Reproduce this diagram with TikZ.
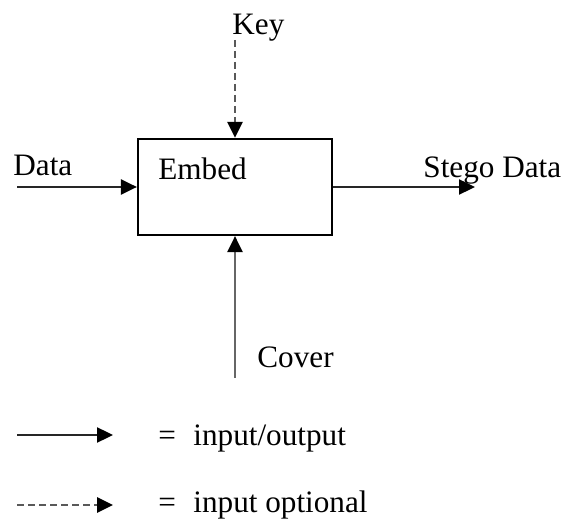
\documentclass[tikz,border=0pt]{standalone}
\usepackage{fontspec}
\setmainfont{Liberation Serif}
\usetikzlibrary{arrows.meta}

\tikzset{
  flow/.style={line width=1.2pt, draw=black!85,
    -{Triangle[length=8pt,width=7.5pt,color=black]}},
  optflow/.style={flow, line width=1.4pt, draw=black!65, dash pattern=on 3.5pt off 2pt},
  lbl/.style={anchor=base west, inner sep=0pt, font=\fontsize{15.6}{18}\selectfont},
  block/.style={draw, line width=1.1pt, minimum width=97pt, minimum height=48pt,
    inner sep=0pt}
}

\begin{document}
\begin{tikzpicture}[x=0.5pt, y=-0.5pt]
  \useasboundingbox (0,0) rectangle (566,522);

  % process block
  \node[block] (embed) at (235,187) {};
  \node[lbl] (embedlbl) at (158,180) {Embed};

  % free ends of the connectors
  \coordinate (datain) at (17,187);
  \coordinate (stegoout) at (475,187);
  \coordinate (keyin) at (235,40);
  \coordinate (coverin) at (235,378);

  \draw[flow] (datain) -- (embed.west);
  \draw[flow] (embed.east) -- (stegoout);
  \draw[optflow] (keyin) -- (embed.north);
  \draw[flow, draw=black!60] (coverin) -- (embed.south);

  % connector labels
  \node[lbl] (keylbl) at (232,35) {Key};
  \node[lbl] (datalbl) at (13,176) {Data};
  \node[lbl] (stegolbl) at (423,178) {Stego Data};
  \node[lbl] (coverlbl) at (257,368) {Cover};

  % legend
  \coordinate (lega) at (17,435);
  \coordinate (legb) at (113,435);
  \coordinate (legc) at (17,505);
  \coordinate (legd) at (113,505);
  \draw[flow] (lega) -- (legb);
  \draw[optflow] (legc) -- (legd);
  \node[lbl] (eqa) at (158,445) {=};
  \node[lbl] (ioa) at (193,445) {input/output};
  \node[lbl] (eqb) at (158,512) {=};
  \node[lbl] (iob) at (193,512) {input optional};
\end{tikzpicture}
\end{document}
